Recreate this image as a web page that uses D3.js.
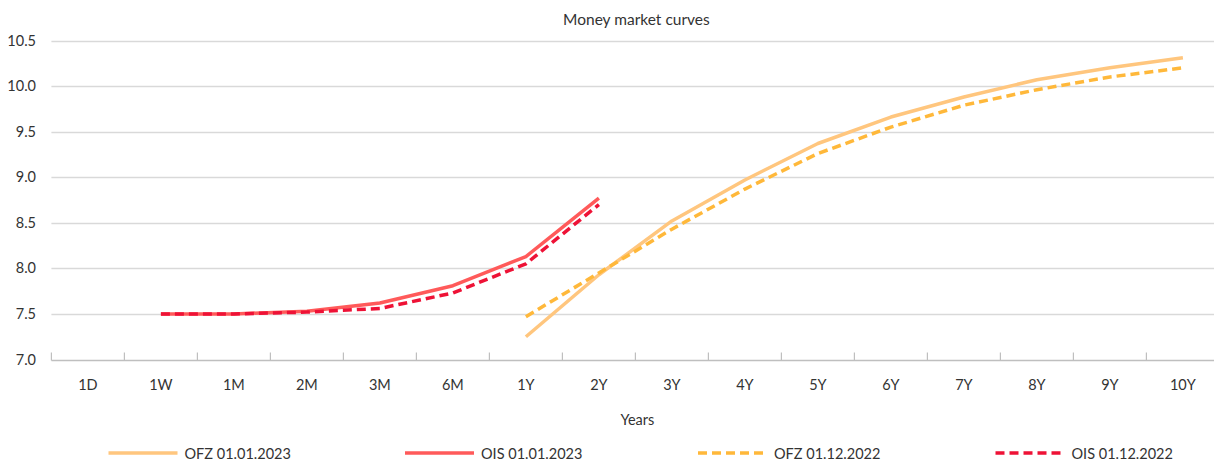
<!DOCTYPE html>
<html>
<head>
<meta charset="utf-8">
<script src="https://cdn.jsdelivr.net/npm/d3@7"></script>
<style>
  html, body { margin: 0; padding: 0; background: #fff; }
  svg { display: block; font-family: Lato, "Open Sans", sans-serif; }
</style>
</head>
<body>
<svg id="chart" width="1214" height="466"></svg>
<script>
const categories = ["1D","1W","1M","2M","3M","6M","1Y","2Y","3Y","4Y","5Y","6Y","7Y","8Y","9Y","10Y"];
const yTicks = [7.0, 7.5, 8.0, 8.5, 9.0, 9.5, 10.0, 10.5];

const ofz20230101 = [null,null,null,null,null,null,7.25,7.93,8.52,8.97,9.37,9.66,9.88,10.07,10.20,10.31];
const ois20230101 = [null,7.50,7.50,7.53,7.62,7.81,8.13,8.77,null,null,null,null,null,null,null,null];
const ofz20221201 = [null,null,null,null,null,null,7.47,7.95,8.43,8.87,9.26,9.55,9.79,9.96,10.10,10.20];
const ois20221201 = [null,7.50,7.50,7.52,7.56,7.73,8.05,8.70,null,null,null,null,null,null,null,null];

const seriesNames = ["OFZ 01.01.2023","OIS 01.01.2023","OFZ 01.12.2022","OIS 01.12.2022"];
const seriesValues = [ofz20230101, ois20230101, ofz20221201, ois20221201];
const seriesColors = ["#ffc67e","#ff5a5a","#ffb83a","#ee1236"];
const seriesDash = [null, null, "9,5", "9,5"];

const svg = d3.select("#chart");
const left = 51.4, bandW = 73;
const fs = 14.5;
const x = d3.scaleBand().domain(categories).range([left, left + bandW * categories.length]).padding(0);
const y = d3.scaleLinear().domain([7.0, 10.5]).range([359.5, 40.5]);

// title
svg.append("text").attr("x", left + bandW * 8 + 1).attr("y", 25).attr("text-anchor", "middle")
  .attr("font-size", 15.5).attr("fill", "#333").text("Money market curves");

// gridlines
svg.append("g").selectAll("line").data(yTicks.filter(d => d > 7.0)).join("line")
  .attr("x1", left).attr("x2", 1214)
  .attr("y1", d => Math.round(y(d)) + 0.5).attr("y2", d => Math.round(y(d)) + 0.5)
  .attr("stroke", "#d9d9d9").attr("stroke-width", 1.5);

// y axis labels
const yAxis = d3.axisLeft(y).tickValues(yTicks).tickFormat(d3.format(".1f")).tickSize(0).tickPadding(0);
const gy = svg.append("g").attr("transform", "translate(36,0)").call(yAxis);
gy.select(".domain").remove();
gy.selectAll("text").attr("font-size", fs).attr("fill", "#333").attr("font-family", "Lato, sans-serif");

// x axis
const xAxis = d3.axisBottom(x).tickSize(0).tickPadding(0);
const gx = svg.append("g").attr("transform", `translate(0,${Math.round(y(7.0)) + 0.5})`).call(xAxis);
gx.select(".domain").attr("d", `M${left},0H1214`).attr("stroke", "#bfbfbf").attr("stroke-width", 1.5);
gx.selectAll("text").attr("font-size", fs).attr("fill", "#333").attr("dy", 0).attr("y", 29).attr("font-family", "Lato, sans-serif");
// boundary ticks
const bounds = d3.range(categories.length + 1).map(i => left + i * bandW).filter(v => v <= 1214);
gx.append("g").selectAll("line").data(bounds).join("line")
  .attr("x1", d => d).attr("x2", d => d).attr("y1", -8).attr("y2", 0)
  .attr("stroke", "#bfbfbf").attr("stroke-width", 1.2);

// x title
svg.append("text").attr("x", left + bandW * 8 + 2).attr("y", 425).attr("text-anchor", "middle")
  .attr("font-size", fs).attr("fill", "#333").text("Years");

// lines
const line = d3.line()
  .defined(d => d.v !== null)
  .x(d => x(d.c) + x.bandwidth() / 2)
  .y(d => y(d.v));

const order = [0, 2, 1, 3];
order.forEach(i => {
  const data = categories.map((c, j) => ({c, v: seriesValues[i][j]}));
  svg.append("path").datum(data)
    .attr("d", line)
    .attr("fill", "none")
    .attr("stroke", seriesColors[i])
    .attr("stroke-width", 3.5)
    .attr("stroke-linejoin", "round")
    .attr("stroke-dasharray", seriesDash[i]);
});

// legend
const legendX = [108.5, 405, 698, 995.5];
const lg = svg.append("g");
seriesNames.forEach((name, i) => {
  const g = lg.append("g").attr("transform", `translate(${legendX[i]},453)`);
  g.append("line").attr("x1", 0).attr("x2", 69).attr("y1", 0).attr("y2", 0)
    .attr("stroke", seriesColors[i]).attr("stroke-width", 3.5)
    .attr("stroke-dasharray", seriesDash[i]);
  g.append("text").attr("x", 76).attr("y", 5.5).attr("font-size", fs).attr("fill", "#333").text(name);
});
</script>
</body>
</html>
